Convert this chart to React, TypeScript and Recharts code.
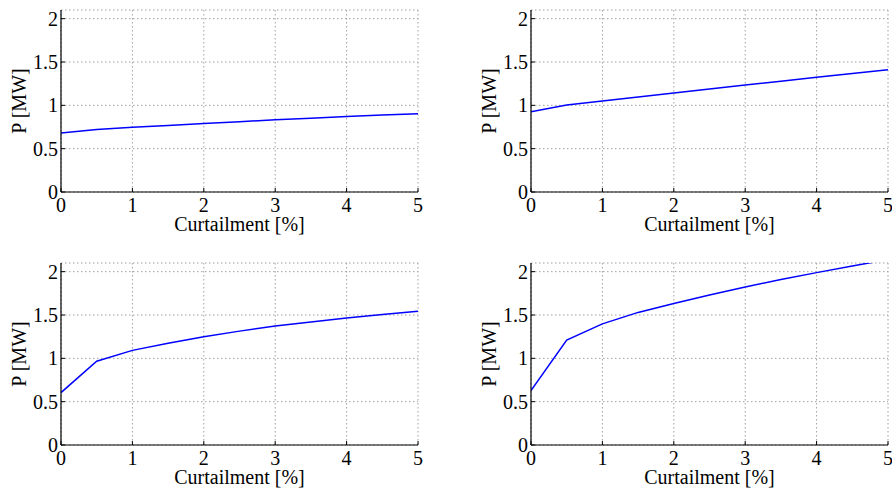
import React from 'react';
import { LineChart, Line, XAxis, YAxis, CartesianGrid } from 'recharts';

const curtailment = [0, 0.5, 1, 1.5, 2, 2.5, 3, 3.5, 4, 4.5, 5];
const seriesTopLeft = [0.68, 0.72, 0.746, 0.768, 0.79, 0.812, 0.833, 0.852, 0.87, 0.888, 0.904];
const seriesTopRight = [0.927, 1.004, 1.05, 1.096, 1.142, 1.188, 1.235, 1.279, 1.323, 1.368, 1.412];
const seriesBottomLeft = [0.605, 0.966, 1.092, 1.175, 1.249, 1.314, 1.372, 1.42, 1.464, 1.505, 1.544];
const seriesBottomRight = [0.628, 1.21, 1.398, 1.53, 1.632, 1.73, 1.824, 1.91, 1.989, 2.065, 2.14];

const xTicks = [0, 1, 2, 3, 4, 5];
const yTicks = [0, 0.5, 1, 1.5, 2];
const xLabel = 'Curtailment [%]';
const yLabel = 'P [MW]';

const FONT = '"Liberation Serif", "Times New Roman", serif';

const XTick = (props: any) => (
  <text
    x={props.x}
    y={props.y}
    dy="0.71em"
    textAnchor="middle"
    style={{ fontFamily: FONT, fontSize: 20, fill: '#000' }}
  >
    {String(props.payload.value)}
  </text>
);

const YTick = (props: any) => (
  <text
    x={props.x}
    y={props.y}
    dy="0.355em"
    textAnchor="end"
    style={{ fontFamily: FONT, fontSize: 20, fill: '#000' }}
  >
    {String(props.payload.value)}
  </text>
);

const YLabel = (props: any) => {
  const vb = props.viewBox || { x: 0, y: 0, width: 0, height: 0 };
  const cx = vb.x + 18.5;
  const cy = vb.y + vb.height / 2;
  return (
    <text
      x={cx}
      y={cy}
      transform={`rotate(-90, ${cx}, ${cy})`}
      textAnchor="middle"
      dominantBaseline="central"
      style={{ fontFamily: FONT, fontSize: 20, fill: '#000' }}
    >
      {yLabel}
    </text>
  );
};

const XLabel = (props: any) => {
  const vb = props.viewBox || { x: 0, y: 0, width: 0, height: 0 };
  const cx = vb.x + vb.width / 2;
  const cy = vb.y + 39;
  return (
    <text x={cx} y={cy} textAnchor="middle" style={{ fontFamily: FONT, fontSize: 20, fill: '#000' }}>
      {xLabel}
    </text>
  );
};

function Panel({ values, left, top }: { values: number[]; left: number; top: number }) {
  const data = curtailment.map((x, i) => ({ x, p: values[i] }));
  return (
    <div style={{ position: 'absolute', left, top, width: 446, height: 238 }}>
      <LineChart
        width={446}
        height={238}
        data={data}
        margin={{ top: 10, right: 28, bottom: 1, left: 0 }}
        style={{ fontFamily: FONT }}
      >
        <CartesianGrid
          xAxisId="bottom"
          yAxisId="left"
          stroke="#a0a0a0"
          strokeDasharray="1.5 2.5"
          strokeWidth={1}
        />
        <XAxis
          xAxisId="bottom"
          dataKey="x"
          type="number"
          domain={[0, 5]}
          ticks={xTicks}
          allowDataOverflow
          height={45}
          tickSize={-4}
          tickMargin={10}
          tick={XTick}
          axisLine={{ stroke: '#000', strokeWidth: 1.2 }}
          tickLine={{ stroke: '#000' }}
          interval={0}
          label={{ content: XLabel }}
        />
        <XAxis
          xAxisId="top"
          dataKey="x"
          type="number"
          orientation="top"
          domain={[0, 5]}
          ticks={xTicks}
          allowDataOverflow
          height={0}
          tickSize={-4}
          tick={false}
          axisLine={{ stroke: '#000', strokeWidth: 1.2 }}
          tickLine={{ stroke: '#000' }}
          interval={0}
        />
        <YAxis
          yAxisId="left"
          type="number"
          domain={[0, 2.1]}
          ticks={yTicks}
          allowDataOverflow
          width={61}
          tickSize={-4}
          tickMargin={7}
          tick={YTick}
          axisLine={{ stroke: '#000', strokeWidth: 1.2 }}
          tickLine={{ stroke: '#000' }}
          interval={0}
          label={{ content: YLabel }}
        />
        <YAxis
          yAxisId="right"
          orientation="right"
          type="number"
          domain={[0, 2.1]}
          ticks={yTicks}
          allowDataOverflow
          width={0}
          tickSize={-4}
          tick={false}
          axisLine={{ stroke: '#000', strokeWidth: 1.2 }}
          tickLine={{ stroke: '#000' }}
          interval={0}
        />
        <Line
          xAxisId="bottom"
          yAxisId="left"
          type="linear"
          dataKey="p"
          stroke="#0000ff"
          strokeWidth={1.5}
          dot={false}
          activeDot={false}
          isAnimationActive={false}
        />
      </LineChart>
    </div>
  );
}

export default function App() {
  return (
    <div style={{ position: 'absolute', left: 0, top: 0, width: 892, height: 491, overflow: 'hidden', background: '#fff' }}>
      <Panel values={seriesTopLeft} left={0} top={0} />
      <Panel values={seriesTopRight} left={470} top={0} />
      <Panel values={seriesBottomLeft} left={0} top={253} />
      <Panel values={seriesBottomRight} left={470} top={253} />
    </div>
  );
}
